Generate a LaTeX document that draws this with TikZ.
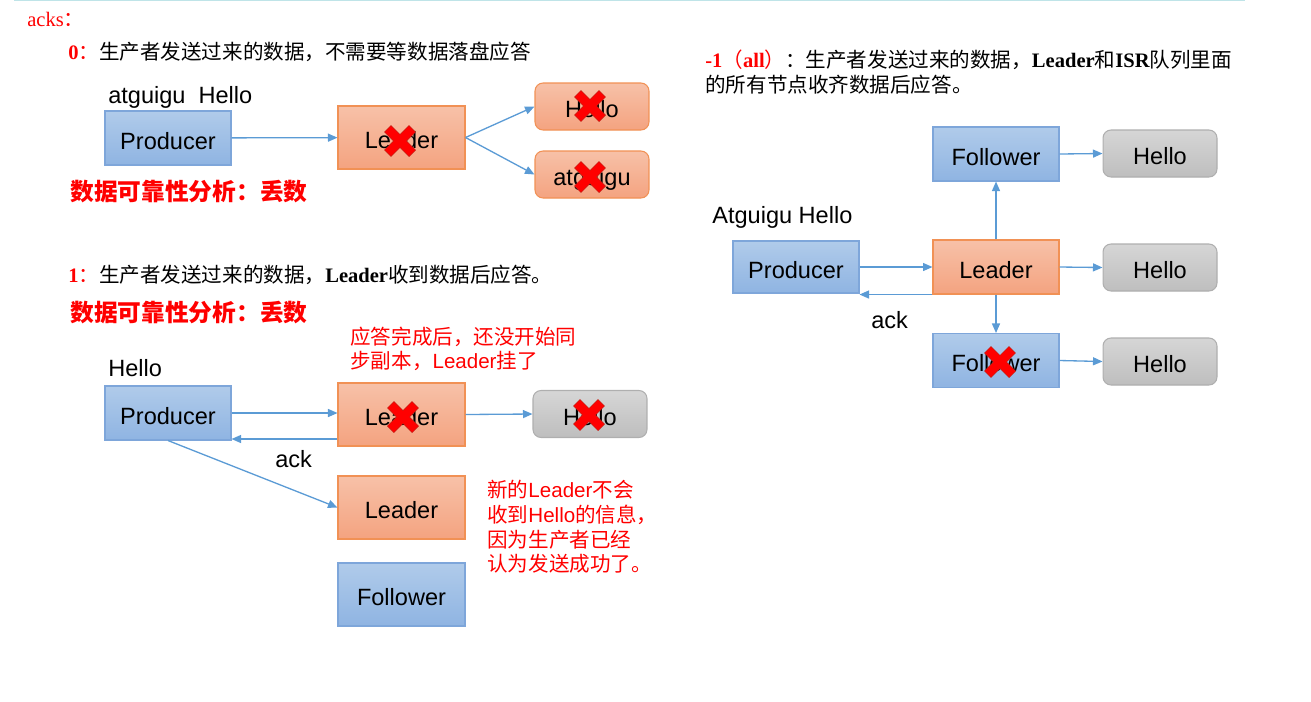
\documentclass[tikz,border=0pt]{standalone}
\usepackage{fontspec}
\setmainfont{Liberation Serif}
\setsansfont{Liberation Sans}
\newfontfamily\cjk{Noto Sans CJK SC}
\usetikzlibrary{arrows.meta}

\definecolor{blueTop}{RGB}{176,203,234}
\definecolor{blueBot}{RGB}{143,180,226}
\definecolor{blueLine}{RGB}{126,166,218}
\definecolor{orangeTop}{RGB}{247,193,168}
\definecolor{orangeBot}{RGB}{244,163,128}
\definecolor{orangeLine}{RGB}{241,145,85}
\definecolor{grayTop}{RGB}{214,214,214}
\definecolor{grayBot}{RGB}{190,190,190}
\definecolor{grayLine}{RGB}{175,175,175}
\definecolor{arrowBlue}{RGB}{91,155,213}
\definecolor{topCyan}{RGB}{191,228,232}
\definecolor{crossEdge}{RGB}{200,30,20}

\begin{document}
\begin{tikzpicture}[x=0.02cm, y=-0.02cm,
blue_box/.style={rectangle, draw=blueLine, line width=0.6pt, top color=blueTop, bottom color=blueBot, minimum width=2.52cm, minimum height=1.08cm, inner sep=0pt, text height=12.7pt, text depth=0pt, font=\sffamily\fontsize{13.4}{16}\selectfont},
orange_box/.style={blue_box, draw=orangeLine, top color=orangeTop, bottom color=orangeBot, minimum width=2.54cm, minimum height=1.26cm},
orange_round/.style={orange_box, rounded corners=0.16cm, minimum width=2.28cm, minimum height=0.94cm},
gray_round/.style={orange_round, draw=grayLine, top color=grayTop, bottom color=grayBot},
arrow_style/.style={arrowBlue, line width=0.75pt, -{Triangle[length=0.19cm, width=0.16cm]}},
plain_text/.style={inner sep=0pt, anchor=base west, font=\sffamily\fontsize{13.4}{16}\selectfont},
head_text/.style={inner sep=0pt, anchor=west, align=left, font=\fontsize{11.7}{14.2}\selectfont},
red_head/.style={inner sep=0pt, anchor=west, text=red, font=\cjk\bfseries\fontsize{13.5}{16}\selectfont},
red_note/.style={inner sep=0pt, anchor=west, align=left, text=red, font=\cjk\fontsize{11.7}{14}\selectfont},
cross_mark/.pic={
	\draw[crossEdge, line width=5.6pt] (-0.25cm,-0.25cm) -- (0.25cm,0.25cm) (-0.25cm,0.25cm) -- (0.25cm,-0.25cm);
	\draw[red, line width=4.8pt] (-0.24cm,-0.24cm) -- (0.24cm,0.24cm) (-0.24cm,0.24cm) -- (0.24cm,-0.24cm);
},
]

\useasboundingbox (0,0) rectangle (1311,701);
\draw[topCyan, line width=0.8pt] (14,0.7) -- (1245,0.7);

\node[head_text, text=red] (acksTitle) at (27,19) {acks\cjk ：};

% acks = 0
\node[head_text] (headZero) at (68,52) {\textcolor{red}{\textbf{0}\cjk ：}\cjk 生产者发送过来的数据，不需要等数据落盘应答};
\node[plain_text] (msgZero) at (108,103) {atguigu\ \ Hello};
\node[blue_box] (prodZero) at (168,138) {Producer};
\node[orange_box] (leadZero) at (401.5,137.5) {Leader};
\node[orange_round] (helloZero) at (592,106.5) {Hello};
\node[orange_round] (atgZero) at (592,174.5) {atguigu};
\draw[arrow_style] (prodZero) -- (leadZero);
\draw[arrow_style] (leadZero.east) -- (helloZero.west);
\draw[arrow_style] (leadZero.east) -- (atgZero.west);
\node[red_head] (lossZero) at (70,192) {数据可靠性分析：丢数};

% acks = 1
\node[head_text] (headOne) at (68,275) {\textcolor{red}{\textbf{1}\cjk ：}\cjk 生产者发送过来的数据，{\rmfamily\bfseries Leader}收到数据后应答。};
\node[red_head] (lossOne) at (70,313) {数据可靠性分析：丢数};
\node[red_note] (noteOne) at (350,349) {应答完成后，还没开始同\\步副本，{\sffamily Leader}挂了};
\node[plain_text] (msgOne) at (108,376.5) {Hello};
\node[blue_box] (prodOne) at (168,413) {Producer};
\node[orange_box] (leadOne) at (401.5,414.5) {Leader};
\node[gray_round] (helloOne) at (590,414) {Hello};
\node[orange_box] (leadNew) at (401.5,507.5) {Leader};
\node[blue_box, minimum width=2.54cm, minimum height=1.26cm] (follOne) at (401.5,594.5) {Follower};
\draw[arrow_style] (prodOne.east) -- (prodOne.east -| leadOne.west);
\draw[arrow_style] (leadOne.west |- 0,439) -- (prodOne.east |- 0,439);
\draw[arrow_style] (leadOne.east) -- (helloOne.west);
\draw[arrow_style] (prodOne.south) -- (leadNew.west);
\node[plain_text] (ackOne) at (275,467) {ack};
\node[red_note] (noteTwo) at (487,527) {新的{\sffamily Leader}不会\\收到{\sffamily Hello}的信息，\\因为生产者已经\\认为发送成功了。};

% acks = -1 (all)
\node[head_text] (headAll) at (705,72.5) {\textcolor{red}{\textbf{-1}\cjk （\rmfamily\bfseries all\cjk\mdseries ）}\cjk ：生产者发送过来的数据，{\rmfamily\bfseries Leader}和{\rmfamily\bfseries ISR}队列里面\\\cjk 的所有节点收齐数据后应答。};
\node[plain_text] (msgAll) at (712,223.5) {Atguigu Hello};
\node[blue_box, minimum height=1.04cm] (prodAll) at (796,267) {Producer};
\node[orange_box, minimum width=2.52cm, minimum height=1.08cm] (leadAll) at (996,267) {Leader};
\node[blue_box] (follTop) at (996,154) {Follower};
\node[blue_box] (follBot) at (996,360.5) {Follower};
\node[gray_round] (helloTop) at (1160,153.5) {Hello};
\node[gray_round] (helloMid) at (1160,267.5) {Hello};
\node[gray_round] (helloBot) at (1160,361.5) {Hello};
\draw[arrow_style] (prodAll) -- (leadAll);
\draw[arrow_style] (leadAll.south west) -- (leadAll.south west -| prodAll.east);
\draw[arrow_style] (leadAll) -- (follTop);
\draw[arrow_style] (leadAll) -- (follBot);
\foreach \src/\dst in {follTop/helloTop, leadAll/helloMid, follBot/helloBot}
	\draw[arrow_style] (\src.east) -- (\dst.west);
\node[plain_text] (ackAll) at (871,328) {ack};

% failed nodes
\foreach \cx/\cy in {400/141, 590/106, 590/177, 403/417, 589/415, 1000/362}
	\pic at (\cx,\cy) {cross_mark};

\end{tikzpicture}
\end{document}
